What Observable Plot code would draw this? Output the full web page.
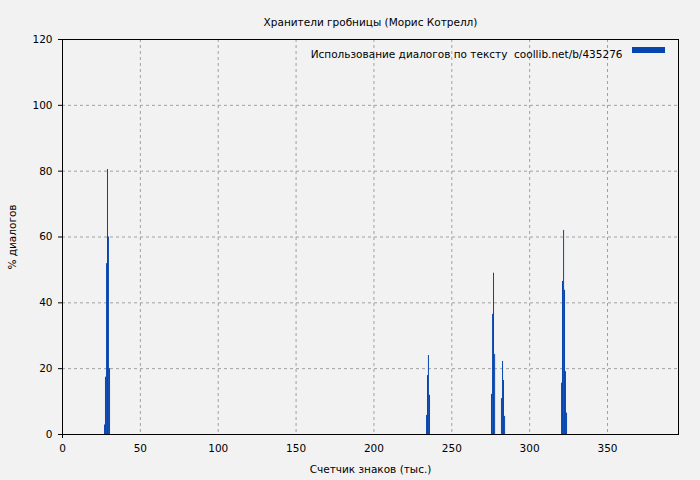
<!DOCTYPE html>
<html>
<head>
<meta charset="utf-8">
<script src="https://cdn.jsdelivr.net/npm/d3@7"></script>
<script src="https://cdn.jsdelivr.net/npm/@observablehq/plot@0.6"></script>
<style>
  html, body { margin: 0; padding: 0; background: #f2f2f2; }
  #chart { width: 700px; height: 480px; }
</style>
</head>
<body>
<div id="chart"></div>
<script>
// Data (thousands of characters, % dialogue)
const positions = [
  27.0, 27.6, 28.3, 28.9, 29.5, 30.2,
  233.8, 234.4, 235.0, 235.7,
  275.5, 276.2, 276.8, 277.5,
  281.9, 282.6, 283.2, 283.9,
  320.5, 321.1, 321.8, 322.4, 323.0, 323.7
];
const dialogPct = [
  2.9, 17.4, 51.9, 80.5, 60.0, 20.0,
  5.8, 17.9, 24.0, 11.9,
  12.2, 36.5, 49.0, 24.3,
  10.9, 22.2, 16.4, 5.5,
  15.6, 46.5, 62.0, 43.8, 19.1, 6.5
];
const binWidth = 0.642;
const xTicks = [0, 50, 100, 150, 200, 250, 300, 350];
const yTicks = [0, 20, 40, 60, 80, 100, 120];
const titleText = "Хранители гробницы (Морис Котрелл)";
const legendText = "Использование диалогов по тексту  coollib.net/b/435276";
const xLabel = "Счетчик знаков (тыс.)";
const yLabel = "% диалогов";

const data = positions.map((x, i) => ({x1: x, x2: x + binWidth, y: dialogPct[i]}));
const barColor = "#0645ad";
const fs = 10.5;

const chart = Plot.plot({
  width: 700,
  height: 480,
  marginLeft: 62,
  marginRight: 22,
  marginTop: 39,
  marginBottom: 46,
  style: {background: "#f2f2f2", fontFamily: "DejaVu Sans", fontSize: fs + "px", color: "#000"},
  x: {domain: [0, 395.6], ticks: xTicks, label: null},
  y: {domain: [0, 120], ticks: yTicks, label: null},
  marks: [
    Plot.gridX(xTicks.filter(d => d > 0), {stroke: "#a0a0a0", strokeOpacity: 1, strokeDasharray: "3,3"}),
    Plot.gridY(yTicks.filter(d => d > 0 && d < 120), {stroke: "#a0a0a0", strokeOpacity: 1, strokeDasharray: "3,3"}),
    Plot.rectY(data, {x1: "x1", x2: "x2", y: "y", fill: barColor, insetLeft: 0, insetRight: 0}),
    Plot.axisX([0], {tickSize: 4, text: null}),
    Plot.axisX({ticks: xTicks, tickSize: 0, tickPadding: 10, label: xLabel, labelAnchor: "center", labelOffset: 38, labelArrow: "none", fontSize: fs}),
    Plot.axisY({ticks: yTicks, tickSize: 4, tickPadding: 6, label: yLabel, labelAnchor: "center", labelOffset: 54, labelArrow: "none", fontSize: fs}),
    Plot.frame({stroke: "#000"}),
    Plot.text([titleText], {frameAnchor: "top", dy: -21, fontSize: fs, fill: "#000"}),
    Plot.text([legendText], {frameAnchor: "top-right", dx: -56, dy: 11, textAnchor: "end", fontSize: fs, fill: "#000"})
  ]
});

// Legend swatch
const svg = d3.select(chart);
svg.append("rect")
  .attr("x", 632).attr("y", 47).attr("width", 33).attr("height", 6)
  .attr("fill", barColor);

document.getElementById("chart").appendChild(chart);
</script>
</body>
</html>
